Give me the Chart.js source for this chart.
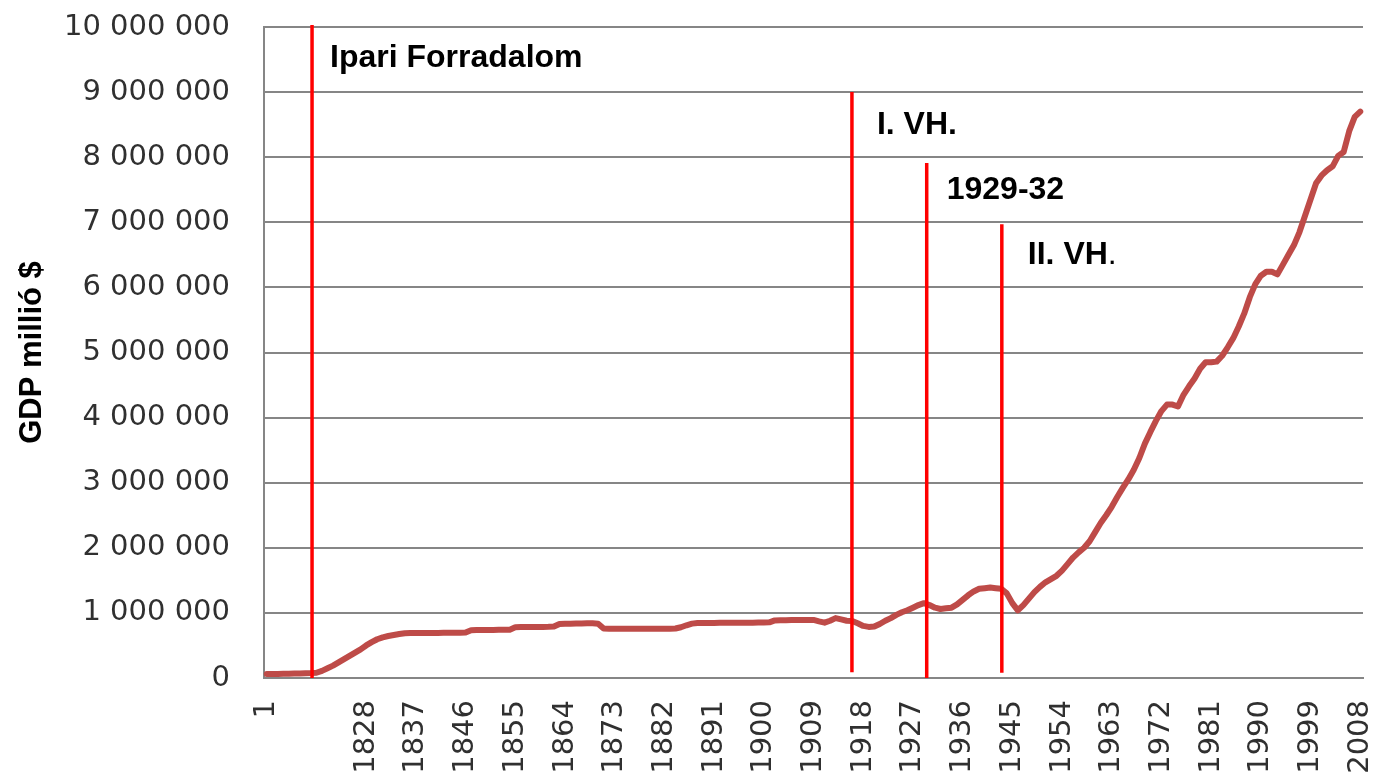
<!DOCTYPE html>
<html>
<head>
<meta charset="utf-8">
<script src="https://cdn.jsdelivr.net/npm/chart.js@4.4.1/dist/chart.umd.min.js"></script>
<style>
  html, body { margin: 0; padding: 0; background: #ffffff; }
  #wrap { width: 1377px; height: 777px; }
</style>
</head>
<body>
<div id="wrap"><canvas id="gdpChart" width="1377" height="777"></canvas></div>
<script>
// categories before the annual series: year 1, then unlabelled points
const earlyLabels = ['1', '', '', '', '', '', '', '', '', ''];
const earlyGdp = [60000, 60000, 62000, 64000, 66000, 68000, 70000, 72000, 75000, 80000];

// annual series 1820 - 2008 (GDP, millió $)
const firstYear = 1820;
const lastYear = 2008;
const annualGdp = [
    110000, 150000, 190000, 240000, 290000, 340000, 390000, 440000, 500000, 550000,      // 1820
    595000, 625000, 645000, 660000, 675000, 688000, 690000, 690000, 692000, 692000,      // 1830
    693000, 693000, 694000, 695000, 695000, 696000, 698000, 735000, 737000, 737000,      // 1840
    738000, 738000, 740000, 740000, 742000, 780000, 782000, 783000, 783000, 784000,      // 1850
    785000, 786000, 790000, 830000, 835000, 835000, 838000, 838000, 840000, 840000,      // 1860
    835000, 760000, 758000, 758000, 757000, 757000, 755000, 755000, 755000, 756000,      // 1870
    756000, 757000, 757000, 758000, 760000, 780000, 810000, 835000, 845000, 845000,      // 1880
    846000, 846000, 847000, 847000, 848000, 848000, 849000, 850000, 850000, 851000,      // 1890
    852000, 855000, 885000, 888000, 888000, 890000, 890000, 890000, 892000, 892000,      // 1900
    870000, 850000, 880000, 920000, 900000, 880000, 875000, 840000, 800000, 785000,      // 1910
    790000, 830000, 880000, 920000, 970000, 1010000, 1040000, 1080000, 1120000, 1150000, // 1920
    1120000, 1080000, 1060000, 1070000, 1080000, 1130000, 1200000, 1270000, 1330000, 1370000, // 1930
    1380000, 1390000, 1380000, 1370000, 1300000, 1150000, 1040000, 1120000, 1220000, 1320000, // 1940
    1400000, 1470000, 1520000, 1570000, 1650000, 1750000, 1850000, 1930000, 2000000, 2100000, // 1950
    2240000, 2380000, 2500000, 2630000, 2780000, 2920000, 3050000, 3200000, 3380000, 3600000, // 1960
    3780000, 3950000, 4100000, 4200000, 4200000, 4170000, 4350000, 4480000, 4600000, 4750000, // 1970
    4850000, 4850000, 4860000, 4950000, 5080000, 5220000, 5400000, 5600000, 5850000, 6050000, // 1980
    6180000, 6240000, 6240000, 6200000, 6350000, 6500000, 6650000, 6850000, 7100000, 7350000, // 1990
    7600000, 7720000, 7800000, 7860000, 8020000, 8080000, 8400000, 8620000, 8700000           // 2000
];

// y axis
const yMin = 0;
const yMax = 10000000;
const yStep = 1000000;

// red marker lines: position on the category axis, top/bottom in GDP units
const events = [
    { text: 'Ipari Forradalom', at: 8.2,    top: 10030000, bottom: 0,     textAt: 9520000, dx: 18 },
    { text: 'I. VH.',           at: 105.96, top: 9000000,  bottom: 90000, textAt: 8490000, dx: 25 },
    { text: '1929-32',          at: 119.5,  top: 7910000,  bottom: 0,     textAt: 7500000, dx: 20 },
    { text: 'II. VH',           at: 133.1,  top: 6970000,  bottom: 80000, textAt: 6500000, dx: 26, tail: '.' }
];

const labels = earlyLabels.slice();
for (let y = firstYear; y <= lastYear; y++) labels.push(String(y));
const values = earlyGdp.concat(annualGdp);

function spaced(n) {
    return String(n).replace(/\B(?=(\d{3})+(?!\d))/g, ' ');
}

const gridGrey = '#868686';
const tickFont = { family: '"DejaVu Sans", sans-serif', size: 29 };

// -- red lines and their captions -- //
const eventLines = {
    id: 'eventLines',
    afterDatasetsDraw(chart) {
        const ctx = chart.ctx;
        const xs = chart.scales.x;
        const ys = chart.scales.y;
        ctx.save();
        events.forEach(ev => {
            const x = xs.getPixelForValue(ev.at);
            ctx.strokeStyle = '#ff0000';
            ctx.lineWidth = 3.5;
            ctx.beginPath();
            ctx.moveTo(x, ys.getPixelForValue(ev.top));
            ctx.lineTo(x, ys.getPixelForValue(ev.bottom));
            ctx.stroke();

            ctx.fillStyle = '#000000';
            ctx.textBaseline = 'middle';
            ctx.textAlign = 'left';
            ctx.font = 'bold 32px "Liberation Sans", Arial, sans-serif';
            const ty = ys.getPixelForValue(ev.textAt);
            ctx.fillText(ev.text, x + ev.dx, ty);
            if (ev.tail) {
                const w = ctx.measureText(ev.text).width;
                ctx.font = '32px "Liberation Sans", Arial, sans-serif';
                ctx.fillText(ev.tail, x + ev.dx + w, ty);
            }
        });
        ctx.restore();
    }
};

const bgWhite = {
    id: 'bgWhite',
    beforeDraw(chart) {
        const ctx = chart.ctx;
        ctx.save();
        ctx.fillStyle = '#ffffff';
        ctx.fillRect(0, 0, chart.width, chart.height);
        ctx.restore();
    }
};

new Chart(document.getElementById('gdpChart'), {
    type: 'line',
    data: {
        labels: labels,
        datasets: [{
            label: 'GDP',
            data: values,
            borderColor: '#be4b48',
            borderWidth: 6,
            borderJoinStyle: 'round',
            borderCapStyle: 'round',
            pointRadius: 0,
            tension: 0,
            fill: false
        }]
    },
    options: {
        responsive: false,
        animation: false,
        layout: { padding: { top: 27, right: 14, left: 0, bottom: 0 } },
        plugins: {
            legend: { display: false },
            tooltip: { enabled: false }
        },
        scales: {
            x: {
                type: 'category',
                offset: true,
                grid: { display: false, drawTicks: false },
                border: { display: true, color: gridGrey, width: 2 },
                ticks: {
                    autoSkip: false,
                    minRotation: 90,
                    maxRotation: 90,
                    padding: 22,
                    color: '#303030',
                    font: tickFont,
                    callback: function(value, index) {
                        return index % 9 === 0 ? this.getLabelForValue(value) : '';
                    }
                },
                afterFit(scale) {
                    scale.height = 99;
                    scale.paddingLeft = 0;
                    scale.paddingRight = 0;
                }
            },
            y: {
                min: yMin,
                max: yMax,
                grid: { color: gridGrey, lineWidth: 2, drawTicks: false },
                border: { display: true, color: gridGrey, width: 2 },
                ticks: {
                    stepSize: yStep,
                    padding: 34,
                    color: '#303030',
                    font: tickFont,
                    callback: v => spaced(v)
                },
                title: {
                    display: true,
                    text: 'GDP millió $',
                    color: '#000000',
                    font: { family: '"Liberation Sans", Arial, sans-serif', size: 31, weight: 'bold' },
                    padding: { top: 14, bottom: 0 }
                },
                afterFit(scale) {
                    scale.width = 264;
                    scale.paddingTop = 0;
                    scale.paddingBottom = 0;
                }
            }
        }
    },
    plugins: [bgWhite, eventLines]
});
</script>
</body>
</html>
